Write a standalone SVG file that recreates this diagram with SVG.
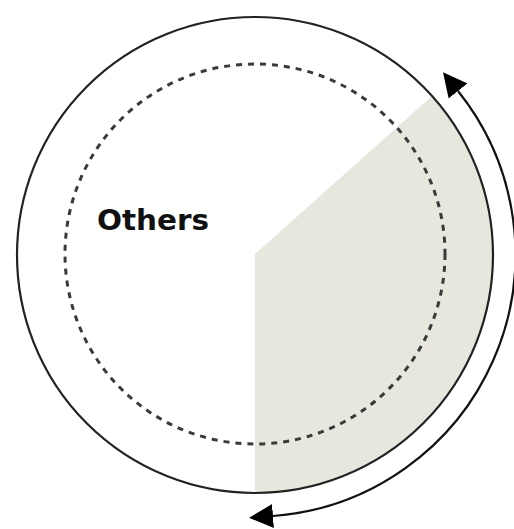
<svg xmlns="http://www.w3.org/2000/svg" width="514" height="529" viewBox="0 0 514 529">
  <style>
    .outer { fill: none; stroke: #222; stroke-width: 2.2; }
    .dashed { fill: none; stroke: #3a3a3a; stroke-width: 3; stroke-dasharray: 6 6; }
    .sector { fill: #e7e7de; stroke: none; }
    .arrow { fill: none; stroke: #111; stroke-width: 2.2; }
    .label { font-family: "DejaVu Sans", "Liberation Sans", sans-serif; font-weight: bold; font-size: 29px; fill: #111; }
  </style>
  <defs>
    <marker id="head" markerUnits="userSpaceOnUse" viewBox="0 0 24 24" refX="0" refY="12" markerWidth="24" markerHeight="24" orient="auto-start-reverse">
      <path d="M0,0 L24,12 L0,24 Z" fill="#000"/>
    </marker>
  </defs>
  <rect width="514" height="529" fill="#fff"/>
  <g id="sector">
    <path class="sector" d="M255,254 L432,96 A238 238 0 0 1 255,493 Z"/>
  </g>
  <g id="outer-circle">
    <circle class="outer" cx="255" cy="255" r="238"/>
  </g>
  <g id="inner-circle">
    <circle class="dashed" cx="255" cy="254" r="190"/>
  </g>
  <g id="others">
    <text class="label" x="97" y="230" textLength="112" lengthAdjust="spacingAndGlyphs">Others</text>
  </g>
  <g id="connectors">
    <path class="arrow" d="M273,516 A262 262 0 0 0 458,91" marker-start="url(#head)" marker-end="url(#head)"/>
  </g>
</svg>
